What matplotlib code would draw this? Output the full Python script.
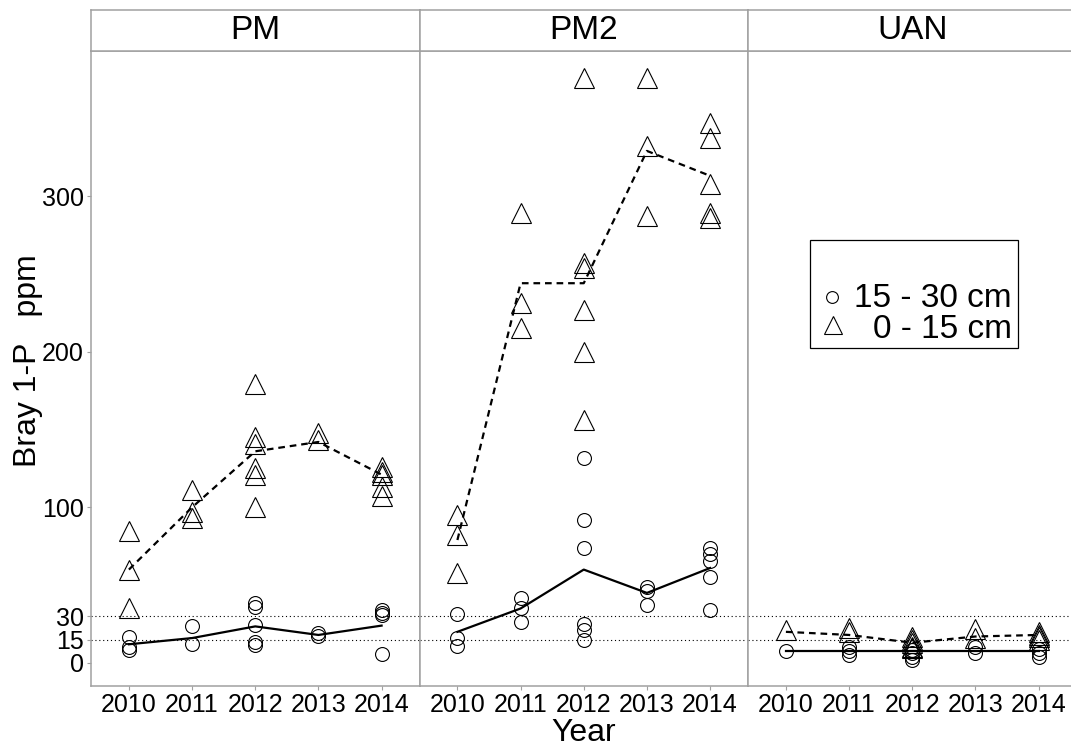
import matplotlib.pyplot as plt
from matplotlib.lines import Line2D
from matplotlib.patches import Rectangle

plt.rcParams['font.family'] = ['Liberation Sans', 'DejaVu Sans']

years = [2010, 2011, 2012, 2013, 2014]
panels = ['PM', 'PM2', 'UAN']

# 0 - 15 cm (triangles), values per year
pm_top = [[85, 60, 35], [111, 97, 93], [179, 145, 141, 125, 121, 100], [148, 143], [126, 123, 121, 113, 107]]
pm2_top = [[95, 82, 58], [289, 231, 215], [376, 257, 254, 227, 200, 156], [376, 332, 287], [347, 337, 308, 289, 286]]
uan_top = [[21], [22.5, 20], [17, 15, 13, 10, 9.5], [22, 16], [20, 18, 17, 15]]

# 15 - 30 cm (circles)
pm_sub = [[17, 10.5, 8.5], [24, 12], [38.5, 36, 24.5, 13.5, 11.5], [19, 17.5], [34, 32, 31, 5.5]]
pm2_sub = [[31.5, 16, 11], [41.5, 35, 26.5], [132, 92, 74, 25, 21, 15], [48.5, 46.5, 37.5], [74, 70, 65.5, 55.5, 34]]
uan_sub = [[8], [10.5, 7.5, 5], [8.5, 6.5, 4, 2], [10.5, 6.5], [9, 6.5, 4]]

# mean lines
pm_top_mean = [60, 100, 136, 142, 121]
pm2_top_mean = [79, 244, 244, 329, 313]
uan_top_mean = [20, 18, 13, 17, 18]
pm_sub_mean = [12, 16, 23.5, 18, 24]
pm2_sub_mean = [20, 35, 60, 45, 61]
uan_sub_mean = [8, 8, 8, 8, 8]

tops = [pm_top, pm2_top, uan_top]
subs = [pm_sub, pm2_sub, uan_sub]
top_means = [pm_top_mean, pm2_top_mean, uan_top_mean]
sub_means = [pm_sub_mean, pm2_sub_mean, uan_sub_mean]

yticks = [0, 15, 30, 100, 200, 300]
grey = '#a0a0a0'

W, H = 1071, 748
fig = plt.figure(figsize=(W / 100, H / 100), dpi=100)

pw = 328.5
bottom, top_px, strip_top = 686, 51, 10
for i, name in enumerate(panels):
    left = 91 + i * pw
    ax = fig.add_axes([left / W, 1 - bottom / H, pw / W, (bottom - top_px) / H])
    for hl in (15, 30):
        ax.axhline(hl, color='black', lw=0.8, ls=(0, (1, 2.5)))
    for j, yr in enumerate(years):
        ax.plot([yr] * len(tops[i][j]), tops[i][j], ls='none', marker='^', ms=14.5,
                mfc='none', mec='black', mew=0.8)
        ax.plot([yr] * len(subs[i][j]), subs[i][j], ls='none', marker='o', ms=10,
                mfc='none', mec='black', mew=0.8)
    ax.plot(years, top_means[i], color='black', lw=1.6, ls=(0, (3, 2.2)))
    ax.plot(years, sub_means[i], color='black', lw=1.6)
    ax.set_xlim(2009.4, 2014.6)
    ax.set_ylim(-14.8, 393.2)
    ax.set_xticks(years)
    ax.set_xticklabels([str(y) for y in years], fontsize=18)
    ax.set_yticks(yticks)
    if i == 0:
        ax.set_yticklabels([str(v) for v in yticks], fontsize=18)
        ax.tick_params(axis='y', length=3, color=grey, pad=2)
    else:
        ax.tick_params(axis='y', left=False, labelleft=False)
    ax.tick_params(axis='x', length=3, color=grey, pad=2)
    for sp in ax.spines.values():
        sp.set_color(grey)
        sp.set_linewidth(1.1)

    # facet strip
    sax = fig.add_axes([left / W, 1 - top_px / H, pw / W, (top_px - strip_top) / H])
    sax.set_xticks([])
    sax.set_yticks([])
    for sp in sax.spines.values():
        sp.set_color(grey)
        sp.set_linewidth(1.1)
    sax.text(0.5, 0.5, name, ha='center', va='center', fontsize=24, transform=sax.transAxes)

    if i == 2:
        # legend box
        fig.patches.append(Rectangle((810 / W, 1 - 348 / H), 208 / W, 108 / H, transform=fig.transFigure,
                                     fill=False, ec='black', lw=0.9))
        fig.lines.append(Line2D([832 / W], [1 - 297 / H], transform=fig.transFigure, marker='o', ms=8.5,
                                mfc='none', mec='black', mew=0.8))
        fig.lines.append(Line2D([833 / W], [1 - 325 / H], transform=fig.transFigure, marker='^', ms=13.5,
                                mfc='none', mec='black', mew=0.8))
        fig.text(1012 / W, 1 - 299 / H, '15 - 30 cm', ha='right', va='center', fontsize=24)
        fig.text(1012 / W, 1 - 329 / H, '0 - 15 cm', ha='right', va='center', fontsize=24)

fig.text(584 / W, 1 - 733 / H, 'Year', ha='center', va='center', fontsize=23)
fig.text(28 / W, 1 - 361 / H, 'Bray 1-P   ppm', ha='center', va='center', rotation=90, fontsize=23)

fig.savefig('out.png', dpi=100)
